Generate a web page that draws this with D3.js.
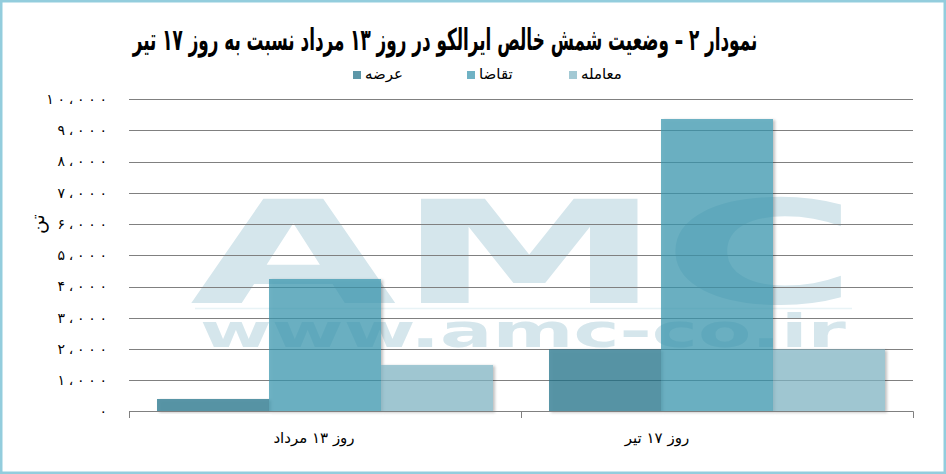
<!DOCTYPE html>
<html><head><meta charset="utf-8">
<script src="https://cdn.jsdelivr.net/npm/d3@7"></script>
<style>
html,body{margin:0;padding:0;background:#fff;}
svg{display:block;}
</style></head>
<body>
<script>
// ---- data ----
const categories = ["روز ۱۳ مرداد", "روز ۱۷ تیر"];
const seriesNames = ["عرضه", "تقاضا", "معامله"];
const supply = [400, 1990];
const demand = [4240, 9360];
const trade = [1490, 1990];
const yTicks = [0,1000,2000,3000,4000,5000,6000,7000,8000,9000,10000];
const yTickLabels = ["۰","۱،۰۰۰","۲،۰۰۰","۳،۰۰۰","۴،۰۰۰","۵،۰۰۰","۶،۰۰۰","۷،۰۰۰","۸،۰۰۰","۹،۰۰۰","۱۰،۰۰۰"];
const titleText = "نمودار ۲ – وضعیت شمش خالص ایرالکو در روز ۱۳ مرداد نسبت به روز ۱۷ تیر";
const unitLabel = "تن";

const seriesValues = [supply, demand, trade];
const colors = ["#1f6f86", "#3794ad", "#7fb4c3"];
const barOpacity = 0.72;

const W = 946, H = 474;
const svg = d3.select("body").append("svg").attr("width", W).attr("height", H);
const FONT = "'DejaVu Sans', sans-serif";

// shadow only outside the shape
const defs = svg.append("defs");
const f = defs.append("filter").attr("id","sh").attr("x","-10%").attr("y","-10%").attr("width","130%").attr("height","130%");
f.append("feGaussianBlur").attr("in","SourceAlpha").attr("stdDeviation",1.5).attr("result","b");
f.append("feOffset").attr("in","b").attr("dx",2).attr("dy",1).attr("result","o");
f.append("feComponentTransfer").attr("in","o").attr("result","o2")
  .append("feFuncA").attr("type","linear").attr("slope",0.35);
f.append("feComposite").attr("in","o2").attr("in2","SourceAlpha").attr("operator","out").attr("result","s");
const fm = f.append("feMerge");
fm.append("feMergeNode").attr("in","s");
fm.append("feMergeNode").attr("in","SourceGraphic");

// border
svg.append("rect").attr("x",1.25).attr("y",1.25).attr("width",W-2.5).attr("height",H-2.5)
  .attr("fill","#fff").attr("stroke","#93cddd").attr("stroke-width",2.5);

// scales
const x0 = d3.scaleBand().domain(categories).range([129, 913]).paddingInner(0).paddingOuter(0);
const x1 = d3.scaleBand().domain(seriesNames).range([0, x0.bandwidth()]).paddingInner(0).paddingOuter(0.25);
const y = d3.scaleLinear().domain([0, 10000]).range([411.5, 99]);

// watermark
const wm = svg.append("g").attr("fill","#d5e6ec");
const amc = wm.append("text").text("AMC").attr("x",0).attr("y",0)
  .attr("font-family", FONT).attr("font-weight","bold").attr("font-size",143);
let wA = amc.node().getComputedTextLength();
amc.attr("transform", `translate(190,303) scale(${668/wA},1)`);
wm.append("line").attr("x1",195).attr("x2",852).attr("y1",308.5).attr("y2",308.5)
  .attr("stroke","#e8f3f6").attr("stroke-width",1.5);
const www = wm.append("text").text("www.amc-co.ir").attr("x",0).attr("y",0)
  .attr("font-family", FONT).attr("font-weight","bold").attr("font-size",46);
let wW = www.node().getComputedTextLength();
www.attr("transform", `translate(200,347) scale(${646/wW},1)`);

// gridlines
svg.append("g").selectAll("line").data(yTicks.slice(1)).join("line")
  .attr("x1",129).attr("x2",913).attr("y1",d=>Math.round(y(d))+0.5).attr("y2",d=>Math.round(y(d))+0.5)
  .attr("stroke","#808080").attr("stroke-width",1);

// bars
const groups = svg.append("g").selectAll("g").data(categories).join("g")
  .attr("transform", d => `translate(${x0(d)},0)`);
groups.selectAll("rect").data((c,i) => seriesNames.map((s,j) => ({s, v: seriesValues[j][i], j})))
  .join("rect")
  .attr("x", d => x1(d.s)).attr("width", x1.bandwidth())
  .attr("y", d => y(d.v)).attr("height", d => y(0) - y(d.v))
  .attr("fill", d => colors[d.j]).attr("fill-opacity", barOpacity)
  .attr("filter","url(#sh)");

// x axis line + ticks
const xa = svg.append("g").attr("stroke","#808080").attr("stroke-width",1);
xa.append("line").attr("x1",129).attr("x2",913.5).attr("y1",411.5).attr("y2",411.5);
const tickXs = categories.map(c => x0(c)).concat([x0.range()[1]]);
xa.selectAll("line.t").data(tickXs).join("line").attr("class","t")
  .attr("x1",d=>Math.round(d)+0.5).attr("x2",d=>Math.round(d)+0.5).attr("y1",411.5).attr("y2",418);

// y tick labels (characters spread apart, as in the reference)
const yl = svg.append("g").selectAll("text").data(yTicks).join("text")
  .attr("x",107).attr("y",d=>y(d)).attr("dy","0.35em")
  .attr("text-anchor","end").attr("font-family",FONT).attr("font-size",14)
  .attr("direction","ltr").attr("fill","#000");
yl.each(function(d,i){
  const chars = Array.from(yTickLabels[i]);
  d3.select(this).selectAll("tspan").data(chars).join("tspan")
    .attr("dx",(c,k)=> k===0 ? 0 : 3.7).text(c=>c);
});

// unit label
svg.append("text").attr("transform","translate(44,224) rotate(-90)")
  .attr("text-anchor","middle").attr("font-family",FONT).attr("font-size",19)
  .attr("fill","#000").text(unitLabel);

// x labels
const xLabelShift = [-11, -60];
svg.append("g").selectAll("text").data(categories).join("text")
  .attr("x",(d,i)=>x0(d)+x0.bandwidth()/2 + xLabelShift[i]).attr("y",443)
  .attr("text-anchor","middle").attr("font-family",FONT).attr("font-size",15)
  .attr("direction","rtl").attr("fill","#000").text(d=>d);

// legend
const legX = [353, 467, 569];
const lg = svg.append("g").selectAll("g").data(seriesNames).join("g")
  .attr("transform",(d,i)=>`translate(${legX[i]},71)`);
lg.append("rect").attr("width",8).attr("height",8).attr("fill",(d,i)=>colors[i]).attr("fill-opacity",barOpacity);
lg.append("text").attr("x",12).attr("y",8).attr("font-family",FONT).attr("font-size",15)
  .attr("text-anchor","start").attr("fill","#000").text(d=>d);

// title
const t = svg.append("text").attr("x",0).attr("y",0).attr("font-family",FONT)
  .attr("font-weight","bold").attr("font-size",30).attr("direction","rtl")
  .attr("text-anchor","middle").attr("fill","#000").text(titleText);
const tw = t.node().getComputedTextLength();
t.attr("transform",`translate(445,50) scale(${625/tw},1)`);
</script>
</body></html>
